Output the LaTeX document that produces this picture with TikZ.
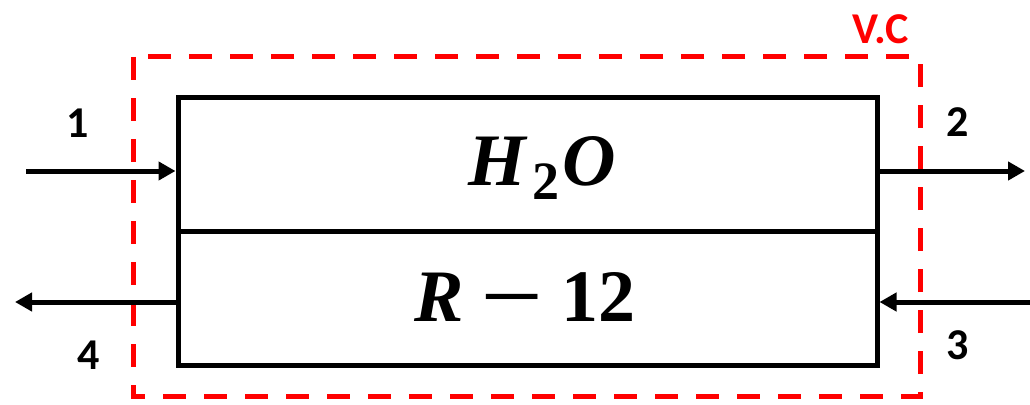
\documentclass[tikz,border=0pt]{standalone}
\usepackage{fontspec}
\setmainfont{Carlito}
\newfontfamily\mathlike{Liberation Serif}
\usetikzlibrary{arrows.meta}
\definecolor{vcred}{RGB}{255,0,0}
\begin{document}
\begin{tikzpicture}[x=1pt,y=-1pt,
  chamber/.style={draw=black,line width=5pt,minimum width=699pt,minimum height=134pt,inner sep=0pt},
  flow/.style={draw=black,line width=5pt,-{Triangle[length=17pt,width=18pt]}},
  numlabel/.style={font=\fontsize{44}{50}\selectfont\bfseries,inner sep=0pt},
  fluid/.style={inner sep=0pt,font=\mathlike\fontsize{74}{80}\selectfont\bfseries},
  vcbox/.style={draw=vcred,line width=5pt,dash pattern=on 23pt off 18pt}]
\useasboundingbox (0,0) rectangle (1030,404);
\draw[vcbox] (133,57) rectangle (920,396);
\node[font=\fontsize{44}{50}\selectfont\bfseries,text=vcred,inner sep=0pt] (vc) at (881,29) {V.C};
\node[chamber] (top) at (527.5,164) {};
\node[chamber] (bot) at (527.5,298) {};
\node[fluid] (h2o) at (542,168)
  {\textit{H}\kern4pt\raisebox{-14pt}{\fontsize{54}{54}\selectfont 2}\kern3pt\textit{O}};
\node[fluid] (r12) at (525,297)
  {\textit{R}\kern16pt\scalebox{1.5}[1]{\char"2212}\kern18pt 12};
\coordinate (in1) at (26,171);
\coordinate (out2) at (1025,171);
\coordinate (in3) at (1030,302);
\coordinate (out4) at (15,302);
\draw[flow] (in1) -- (in1 -| top.west);
\draw[flow] (out2 -| top.east) -- (out2);
\draw[flow] (in3) -- (in3 -| bot.east);
\draw[flow] (out4 -| bot.west) -- (out4);
\node[numlabel] (l1) at (78,123) {1};
\node[numlabel] (l2) at (958,122) {2};
\node[numlabel] (l3) at (958,345) {3};
\node[numlabel] (l4) at (89,355) {4};
\end{tikzpicture}
\end{document}
